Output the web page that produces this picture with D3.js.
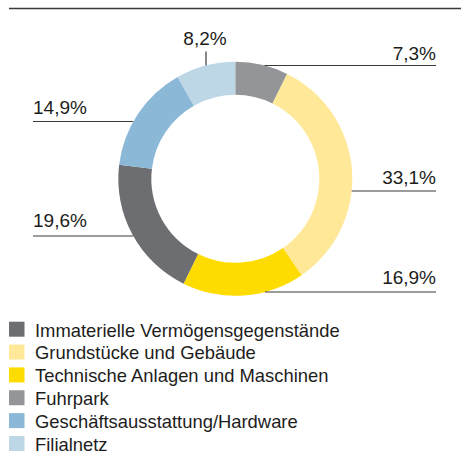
<!DOCTYPE html>
<html>
<head>
<meta charset="utf-8">
<script src="https://cdn.jsdelivr.net/npm/d3@7"></script>
<style>
  html, body { margin: 0; padding: 0; background: #fff; }
  svg { display: block; font-family: "Liberation Sans", Arial, Helvetica, sans-serif; }
</style>
</head>
<body>
<svg id="chart" width="461" height="462"></svg>
<script>
// Categories in legend order
const categories = [
  "Immaterielle Vermögensgegenstände",
  "Grundstücke und Gebäude",
  "Technische Anlagen und Maschinen",
  "Fuhrpark",
  "Geschäftsausstattung/Hardware",
  "Filialnetz"
];
// Shares in percent, same order as categories
const shares = [19.6, 33.1, 16.9, 7.3, 14.9, 8.2];
const colors = ["#6d6e72", "#ffe998", "#ffdc00", "#949599", "#8ab8d6", "#bdd7e7"];
// Clockwise order of the ring, starting at twelve o'clock
const ringOrder = [3, 1, 2, 0, 4, 5];

const svg = d3.select("#chart");
const cx = 235.3, cy = 178.8, R = 117, r = 84;

// Rule at the top
svg.append("line")
  .attr("x1", 9).attr("x2", 461).attr("y1", 8.5).attr("y2", 8.5)
  .attr("stroke", "#3a3a3a").attr("stroke-width", 1.4);

const pie = d3.pie().sort(null).value(i => shares[i]);
const arc = d3.arc().innerRadius(r).outerRadius(R);
const arcs = pie(ringOrder);

const g = svg.append("g").attr("transform", `translate(${cx},${cy})`);
g.selectAll("path").data(arcs).join("path")
  .attr("d", arc)
  .attr("fill", d => colors[d.data]);

const fmt = v => d3.format(".1f")(v).replace(".", ",") + "%";

// Leader placement per slice: horizontal leaders to the left or right, one vertical leader above
const leaders = {
  3: { type: "h", y: 65.5, xEnd: 436, side: "right", ty: 59.5 },
  1: { type: "h", y: 191, xEnd: 436, side: "right", ty: 184 },
  2: { type: "h", y: 292, xEnd: 436, side: "right", ty: 284 },
  0: { type: "h", y: 236, xEnd: 33, side: "left", ty: 227 },
  4: { type: "h", y: 121.5, xEnd: 33, side: "left", ty: 114 },
  5: { type: "v", x: 206, yEnd: 51.5, ty: 44.5 }
};

const lab = svg.append("g");
arcs.forEach(d => {
  const i = d.data, L = leaders[i];
  if (L.type === "h") {
    const dx = Math.sqrt(R * R - (L.y - cy) ** 2);
    const xs = L.side === "right" ? cx + dx : cx - dx;
    lab.append("line")
      .attr("x1", xs).attr("x2", L.xEnd).attr("y1", L.y).attr("y2", L.y)
      .attr("stroke", "#3a3a3a").attr("stroke-width", 1.2);
    lab.append("text")
      .attr("x", L.xEnd).attr("y", L.ty)
      .attr("text-anchor", L.side === "right" ? "end" : "start")
      .attr("font-size", 19).attr("fill", "#1d1d1b")
      .text(fmt(shares[i]));
  } else {
    const dy = Math.sqrt(R * R - (L.x - cx) ** 2);
    lab.append("line")
      .attr("x1", L.x).attr("x2", L.x).attr("y1", cy - dy).attr("y2", L.yEnd)
      .attr("stroke", "#3a3a3a").attr("stroke-width", 1.2);
    lab.append("text")
      .attr("x", L.x - 1).attr("y", L.ty)
      .attr("text-anchor", "middle")
      .attr("font-size", 19).attr("fill", "#1d1d1b")
      .text(fmt(shares[i]));
  }
});

// Legend
const legend = svg.append("g");
const rowY = d3.scaleLinear().domain([0, 1]).range([321.7, 344.55]);
categories.forEach((c, i) => {
  const row = legend.append("g").attr("transform", `translate(9,${rowY(i)})`);
  row.append("rect").attr("width", 15.5).attr("height", 15).attr("fill", colors[i]);
  row.append("text").attr("x", 26).attr("y", 14.8)
    .attr("font-size", 18.4).attr("fill", "#1d1d1b").text(c);
});
</script>
</body>
</html>
